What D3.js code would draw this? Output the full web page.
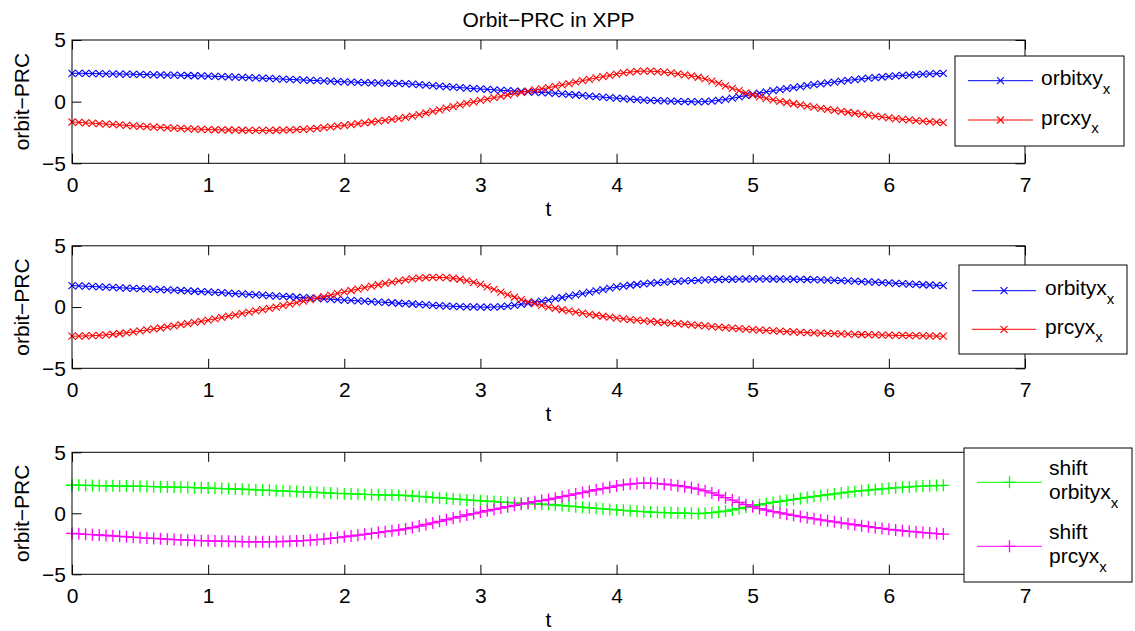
<!DOCTYPE html>
<html><head><meta charset="utf-8">
<script src="https://cdn.jsdelivr.net/npm/d3@7"></script>
<style>
body{margin:0;background:#fff}
text{font-family:"Liberation Sans",Arial,Helvetica,sans-serif;fill:#000}
</style>
</head><body>
<svg id="c" width="1135" height="631"></svg>
<script>
const tStep = 0.05;
const xTicks = [0,1,2,3,4,5,6,7];
const yTicks = [-5,0,5];
const yTickLabels = ["\u22125","0","5"];

const orbitxy = [
 2.30,2.30,2.29,2.28,2.27,2.26,2.25,2.24,2.23,2.22,
 2.21,2.20,2.18,2.17,2.16,2.15,2.13,2.12,2.10,2.09,
 2.07,2.05,2.03,2.01,1.99,1.97,1.95,1.92,1.90,1.88,
 1.85,1.83,1.80,1.78,1.75,1.73,1.71,1.68,1.66,1.63,
 1.61,1.59,1.57,1.55,1.53,1.52,1.50,1.49,1.48,1.46,
 1.42,1.38,1.34,1.30,1.26,1.22,1.18,1.14,1.10,1.06,
 1.03,0.99,0.96,0.92,0.89,0.86,0.83,0.80,0.77,0.74,
 0.72,0.68,0.63,0.59,0.54,0.50,0.45,0.41,0.36,0.32,
 0.28,0.24,0.20,0.16,0.13,0.10,0.08,0.06,0.04,0.02,
 0.01,0.00,-0.02,0.01,0.05,0.11,0.18,0.28,0.38,0.49,
 0.60,0.70,0.79,0.89,0.98,1.06,1.14,1.22,1.30,1.38,
 1.45,1.52,1.59,1.66,1.73,1.79,1.85,1.90,1.95,2.00,
 2.05,2.09,2.13,2.16,2.20,2.23,2.25,2.27,2.29
];
const prcxy = [
 -1.65,-1.68,-1.72,-1.75,-1.78,-1.82,-1.85,-1.89,-1.93,-1.96,
 -2.00,-2.03,-2.06,-2.09,-2.12,-2.15,-2.17,-2.20,-2.22,-2.24,
 -2.26,-2.28,-2.29,-2.30,-2.31,-2.32,-2.33,-2.33,-2.33,-2.33,
 -2.32,-2.31,-2.29,-2.27,-2.24,-2.20,-2.16,-2.11,-2.05,-1.99,
 -1.93,-1.86,-1.79,-1.72,-1.65,-1.58,-1.51,-1.44,-1.37,-1.28,
 -1.17,-1.05,-0.92,-0.79,-0.66,-0.53,-0.40,-0.27,-0.14,-0.02,
 0.10,0.21,0.32,0.43,0.54,0.65,0.75,0.85,0.95,1.04,
 1.13,1.24,1.36,1.47,1.59,1.70,1.81,1.93,2.03,2.13,
 2.24,2.33,2.40,2.45,2.48,2.47,2.44,2.39,2.33,2.26,
 2.18,2.09,1.98,1.84,1.67,1.48,1.28,1.08,0.89,0.71,
 0.54,0.39,0.26,0.14,0.03,-0.07,-0.17,-0.27,-0.36,-0.45,
 -0.54,-0.62,-0.70,-0.78,-0.86,-0.94,-1.02,-1.10,-1.17,-1.24,
 -1.31,-1.37,-1.43,-1.48,-1.53,-1.58,-1.62,-1.66,-1.70
];
const orbityx = [
 1.75,1.73,1.70,1.68,1.65,1.62,1.60,1.57,1.55,1.52,
 1.50,1.48,1.45,1.43,1.40,1.38,1.35,1.32,1.29,1.26,
 1.23,1.20,1.17,1.13,1.10,1.07,1.03,1.00,0.97,0.93,
 0.90,0.87,0.84,0.80,0.77,0.74,0.70,0.67,0.64,0.60,
 0.57,0.54,0.51,0.48,0.44,0.41,0.38,0.35,0.31,0.28,
 0.25,0.22,0.18,0.14,0.11,0.08,0.06,0.04,0.02,0.01,
 0.00,-0.01,0.00,0.03,0.08,0.14,0.22,0.31,0.40,0.48,
 0.57,0.68,0.78,0.89,1.00,1.10,1.21,1.32,1.43,1.54,
 1.64,1.71,1.78,1.84,1.90,1.95,1.99,2.03,2.07,2.10,
 2.13,2.16,2.18,2.21,2.23,2.25,2.26,2.27,2.28,2.29,
 2.30,2.30,2.30,2.29,2.29,2.28,2.27,2.26,2.25,2.24,
 2.22,2.20,2.18,2.16,2.13,2.11,2.08,2.05,2.03,2.00,
 1.97,1.94,1.91,1.88,1.85,1.82,1.80,1.77,1.75
];
const prcyx = [
 -2.38,-2.37,-2.36,-2.34,-2.31,-2.27,-2.22,-2.16,-2.10,-2.03,
 -1.95,-1.87,-1.79,-1.71,-1.62,-1.53,-1.44,-1.35,-1.26,-1.17,
 -1.07,-0.96,-0.85,-0.74,-0.63,-0.52,-0.42,-0.31,-0.21,-0.10,
 0.00,0.12,0.24,0.37,0.49,0.61,0.74,0.86,0.98,1.11,
 1.23,1.35,1.47,1.59,1.71,1.82,1.93,2.03,2.13,2.22,
 2.30,2.36,2.40,2.42,2.42,2.40,2.35,2.27,2.16,2.02,
 1.85,1.65,1.44,1.22,1.01,0.80,0.61,0.43,0.28,0.13,
 0.00,-0.11,-0.22,-0.32,-0.41,-0.50,-0.59,-0.67,-0.75,-0.83,
 -0.90,-0.96,-1.02,-1.07,-1.12,-1.17,-1.22,-1.27,-1.31,-1.36,
 -1.40,-1.45,-1.50,-1.54,-1.59,-1.63,-1.68,-1.72,-1.77,-1.81,
 -1.85,-1.88,-1.91,-1.94,-1.97,-2.00,-2.03,-2.06,-2.08,-2.11,
 -2.13,-2.15,-2.17,-2.19,-2.21,-2.23,-2.24,-2.26,-2.27,-2.29,
 -2.30,-2.31,-2.32,-2.33,-2.34,-2.35,-2.36,-2.37,-2.38
];
// the third panel shows the same curves as the first one
const shiftOrbityx = orbitxy.slice();
const shiftPrcyx = prcxy.slice();

const time = d3.range(orbitxy.length).map(i => +(i * tStep).toFixed(2));

// ---------------- layout ----------------
const FONT = 21, SUB = 15;
const X0 = 72, X1 = 1025;
const TICK = 9.5;
const panels = [
  {top:40, bottom:163.3,
   series:[{vals:orbitxy,color:"#0000ff",marker:"x",label:[["orbitxy","x"]]},
           {vals:prcxy,color:"#ff0000",marker:"x",label:[["prcxy","x"]]}],
   legend:{x0:955,y0:56,x1:1124,y1:146,lx0:968,lx1:1033,tx:1041,rows:[80.7,120],first:[4.5,4.5]}},
  {top:245.8, bottom:368.3,
   series:[{vals:orbityx,color:"#0000ff",marker:"x",label:[["orbityx","x"]]},
           {vals:prcyx,color:"#ff0000",marker:"x",label:[["prcyx","x"]]}],
   legend:{x0:959,y0:265,x1:1127,y1:354,lx0:972,lx1:1036,tx:1045,rows:[290.7,329.3],first:[4.5,4.5]}},
  {top:452.3, bottom:574.3,
   series:[{vals:shiftOrbityx,color:"#00ff00",marker:"+",label:[["shift",""],["orbityx","x"]]},
           {vals:shiftPrcyx,color:"#ff00ff",marker:"+",label:[["shift",""],["prcyx","x"]]}],
   legend:{x0:964,y0:448,x1:1132,y1:582,lx0:977,lx1:1042,tx:1049,rows:[482.3,546.3],first:[-7,-7],lineGap:[23.7,23.7]}}
];

const svg = d3.select("#c");
const x = d3.scaleLinear().domain([0,7]).range([X0,X1]);

const markerPath = {
  "x": "M-3.5,-3.5L3.5,3.5M-3.5,3.5L3.5,-3.5",
  "+": "M-6,0H6M0,-6V6"
};
const markerWidth = {"x":1.1, "+":1.3};

// title
svg.append("text").attr("x",(X0+X1)/2).attr("y",27).attr("text-anchor","middle")
  .attr("font-size",FONT).text("Orbit\u2212PRC in XPP");

panels.forEach(p => {
  const y = d3.scaleLinear().domain([-5,5]).range([p.bottom,p.top]);
  const g = svg.append("g");

  // data lines and markers
  p.series.forEach(s => {
    const pts = s.vals.map((v,i) => [time[i], v]);
    g.append("path").datum(pts)
      .attr("fill","none").attr("stroke",s.color).attr("stroke-width",1)
      .attr("d", d3.line().x(d=>x(d[0])).y(d=>y(d[1])));
    g.append("g").selectAll("path").data(pts).join("path")
      .attr("transform", d => `translate(${x(d[0])},${y(d[1])})`)
      .attr("d", markerPath[s.marker])
      .attr("fill","none").attr("stroke",s.color).attr("stroke-width",markerWidth[s.marker]);
  });

  // axes (inward ticks, box)
  const ax = svg.append("g");
  ax.append("g").attr("transform",`translate(0,${p.bottom})`)
    .call(d3.axisBottom(x).tickValues(xTicks).tickSizeInner(-TICK).tickSizeOuter(0).tickPadding(14).tickFormat(d3.format("d")));
  ax.append("g").attr("transform",`translate(0,${p.top})`)
    .call(d3.axisTop(x).tickValues(xTicks).tickSizeInner(-TICK).tickSizeOuter(0).tickFormat(""));
  ax.append("g").attr("transform",`translate(${X0},0)`)
    .call(d3.axisLeft(y).tickValues(yTicks).tickSizeInner(-TICK).tickSizeOuter(0).tickPadding(6)
      .tickFormat((d,i)=>yTickLabels[i]));
  ax.append("g").attr("transform",`translate(${X1},0)`)
    .call(d3.axisRight(y).tickValues(yTicks).tickSizeInner(-TICK).tickSizeOuter(0).tickFormat(""));
  ax.selectAll(".domain").remove();
  ax.selectAll(".tick line").attr("stroke","#000").attr("stroke-width",1);
  ax.selectAll(".tick text").attr("font-size",FONT).attr("font-family",null).attr("fill","#000");
  ax.append("rect").attr("x",X0).attr("y",p.top).attr("width",X1-X0).attr("height",p.bottom-p.top)
    .attr("fill","none").attr("stroke","#000").attr("stroke-width",1);

  // axis labels
  ax.append("text").attr("x",(X0+X1)/2).attr("y",p.bottom+53).attr("text-anchor","middle")
    .attr("font-size",FONT).text("t");
  ax.append("text").attr("transform",`translate(29,${(p.top+p.bottom)/2}) rotate(-90)`)
    .attr("text-anchor","middle").attr("font-size",FONT).text("orbit\u2212PRC");

  // legend
  const L = p.legend;
  const lg = svg.append("g");
  lg.append("rect").attr("x",L.x0).attr("y",L.y0).attr("width",L.x1-L.x0).attr("height",L.y1-L.y0)
    .attr("fill","#fff").attr("stroke","#000").attr("stroke-width",1);
  p.series.forEach((s,k) => {
    const ly = L.rows[k];
    lg.append("line").attr("x1",L.lx0).attr("x2",L.lx1).attr("y1",ly).attr("y2",ly)
      .attr("stroke",s.color).attr("stroke-width",1);
    lg.append("path").attr("transform",`translate(${(L.lx0+L.lx1)/2},${ly})`)
      .attr("d",markerPath[s.marker]).attr("fill","none").attr("stroke",s.color)
      .attr("stroke-width",markerWidth[s.marker]);
    // one text element per entry; extra lines are tspans
    const t = lg.append("text").attr("x",L.tx).attr("y",ly+L.first[k]).attr("font-size",FONT);
    let pendingDy = 0;
    s.label.forEach((part,j) => {
      const main = t.append("tspan").text(part[0]);
      if (j > 0) main.attr("x",L.tx).attr("dy", L.lineGap[k] - pendingDy);
      pendingDy = 0;
      if (part[1]) {
        t.append("tspan").attr("font-size",SUB).attr("dy",8.5).text(part[1]);
        pendingDy = 8.5;
      }
    });
  });
});
</script>
</body></html>
